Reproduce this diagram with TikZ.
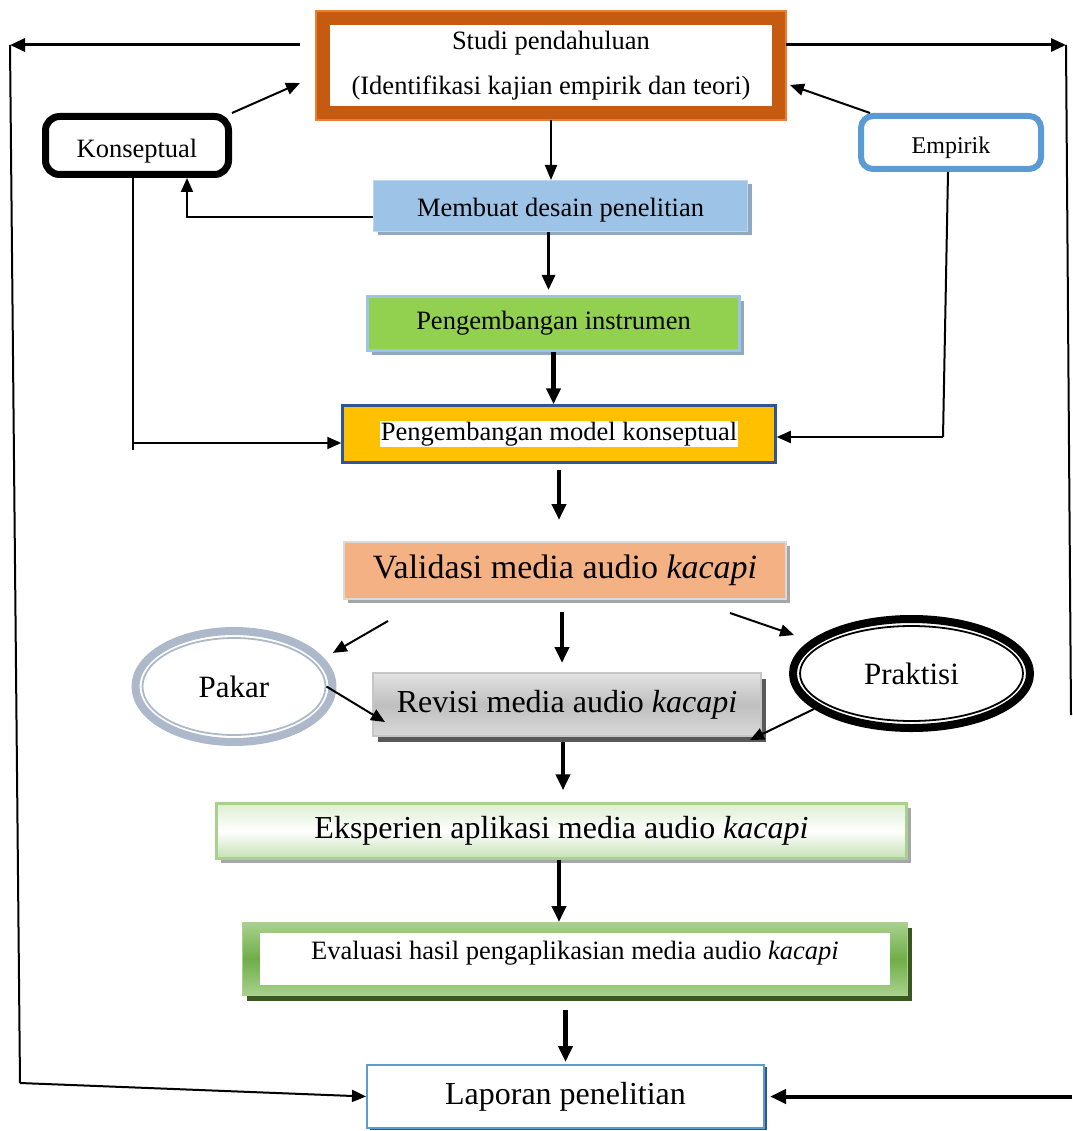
\documentclass[tikz,border=0pt]{standalone}
\usepackage{fontspec}
\setmainfont{Liberation Serif}
\usetikzlibrary{arrows.meta,shapes.geometric,shadows}
\setlength{\fboxsep}{1pt}
\definecolor{orD}{HTML}{C55A11}
\definecolor{orL}{HTML}{ED7D31}
\definecolor{blueE}{HTML}{5B9BD5}
\definecolor{blueM}{HTML}{9DC3E6}
\definecolor{blueMl}{HTML}{BDD7EE}
\definecolor{shBlue}{HTML}{8EA9C1}
\definecolor{greenI}{HTML}{92D050}
\definecolor{gold}{HTML}{FFC000}
\definecolor{navy}{HTML}{2F5597}
\definecolor{peach}{HTML}{F4B183}
\definecolor{shGray}{HTML}{A6A6A6}
\definecolor{darkGray}{HTML}{595959}
\definecolor{greenL}{HTML}{A9D18E}
\definecolor{greenT}{HTML}{DDEED2}
\definecolor{greenB}{HTML}{C5E0B4}
\definecolor{greenM}{HTML}{70AD47}
\definecolor{greenD}{HTML}{385723}
\definecolor{pakarC}{HTML}{ADB9CA}
\begin{document}
\begin{tikzpicture}[x=1pt,y=-1pt]
  \tikzstyle{small}=[font=\fontsize{26.5}{45}\selectfont, inner sep=0pt, align=center]
  \tikzstyle{large}=[font=\fontsize{32}{38}\selectfont, inner sep=0pt]
  \tikzstyle{arr}=[line width=4.5pt, -{Triangle[length=16pt,width=14pt]}]
  \tikzstyle{midarr}=[line width=3pt, -{Triangle[length=15pt,width=13pt]}]
  \tikzstyle{thinarr}=[line width=2pt, -{Triangle[length=15pt,width=12pt]}]
  \tikzstyle{looparr}=[line width=3pt, -{Triangle[length=15pt,width=13pt]}]
  \tikzstyle{fbarr}=[line width=2pt, -{Triangle[length=14pt,width=12pt]}]
  \tikzstyle{fb}=[line width=2pt]
  \tikzstyle{oval}=[ellipse, inner sep=0pt]
  \useasboundingbox (0,0) rectangle (1072,1131);

  % boxes
  \node[small, draw=orD, line width=14pt, fill=white, minimum width=456pt, minimum height=95pt] (studi) at (551,65.5)
    {Studi pendahuluan\\(Identifikasi kajian empirik dan teori)};
  \draw[orL, line width=1.5pt] (studi.north west) rectangle (studi.south east);
  \node[small, draw=black, line width=7pt, rounded corners=14pt, minimum width=183pt, minimum height=58pt, text height=30pt] (konsep) at (137,145.5) {Konseptual};
  \node[small, font=\fontsize{24}{28}\selectfont, draw=blueE, line width=6pt, rounded corners=12pt, minimum width=180pt, minimum height=53pt, text height=27pt] (empirik) at (951,142.5) {Empirik};
  \node[small, fill=blueM, draw=blueMl, line width=1pt, minimum width=374pt, minimum height=51pt, text height=26.5pt,
    drop shadow={shadow xshift=4pt, shadow yshift=-4pt, fill=shBlue, opacity=1}] (membuat) at (560.5,206) {Membuat desain penelitian};
  \node[small, fill=greenI, draw=blueM, line width=3pt, minimum width=372pt, minimum height=54pt,
    drop shadow={shadow xshift=4pt, shadow yshift=-4pt, fill=shBlue, opacity=1}] (instr) at (553.5,323.5) {Pengembangan instrumen};
  \node[small, fill=gold, draw=navy, line width=2.5pt, minimum width=433pt, minimum height=57pt] (model) at (559,434)
    {\colorbox{white}{Pengembangan model konseptual}};
  \node[large, font=\fontsize{34}{38}\selectfont, fill=peach, draw=gray!30, line width=2pt, minimum width=442pt, minimum height=57pt,
    drop shadow={shadow xshift=4pt, shadow yshift=-4pt, fill=shGray, opacity=1}] (validasi) at (565,570.5) {Validasi media audio \textit{kacapi}};
  \node[large, top color=gray!22, bottom color=gray!30, middle color=gray!50, draw=gray!45, line width=2pt, minimum width=388pt, minimum height=63pt,
    drop shadow={shadow xshift=5pt, shadow yshift=-6pt, fill=darkGray, opacity=1}] (revisi) at (567,704.5) {Revisi media audio \textit{kacapi}};
  \node[large, top color=greenT, bottom color=greenB, middle color=white, draw=greenL, line width=2.5pt, minimum width=690pt, minimum height=55pt,
    drop shadow={shadow xshift=4pt, shadow yshift=-4pt, fill=shGray, opacity=1}] (eksp) at (561.5,831) {Eksperien aplikasi media audio \textit{kacapi}};
  \node[top color=greenL, bottom color=greenL, middle color=greenM, draw=greenL, line width=1pt, minimum width=665pt, minimum height=73pt,
    drop shadow={shadow xshift=4pt, shadow yshift=-5pt, fill=greenD, opacity=1}] (evalbg) at (575,959) {};
  \node[small, fill=white, minimum width=630pt, minimum height=52pt, text depth=17pt] (eval) at (575,959)
    {Evaluasi hasil pengaplikasian media audio \textit{kacapi}};
  \node[large, fill=white, draw=blueE, line width=2pt, minimum width=397pt, minimum height=63pt,
    drop shadow={shadow xshift=3pt, shadow yshift=-2pt, fill=navy, opacity=1}] (laporan) at (565.5,1096.5) {Laporan penelitian};

  % ovals
  \node[oval, font=\fontsize{31}{36}\selectfont, draw=pakarC, line width=8pt, minimum width=197pt, minimum height=111pt] (pakar) at (234,686.5) {Pakar};
  \draw[pakarC, line width=1.8pt] (pakar.center) ellipse [x radius=91.5, y radius=48.5];
  \node[oval, font=\fontsize{31}{36}\selectfont, draw=black, line width=8pt, minimum width=237pt, minimum height=109pt] (praktisi) at (911.5,673.5) {Praktisi};
  \draw[black, line width=1.8pt] (praktisi.center) ellipse [x radius=111.5, y radius=47.5];

  % main chain
  \draw[thinarr] (studi.south) -- (studi.south |- membuat.north);
  \draw[midarr, shorten >=5pt] ([xshift=-12pt]membuat.south) -- ([xshift=-12pt]membuat.south |- instr.north);
  \draw[arr] (instr.south) -- (instr.south |- model.north);
  \draw[arr, shorten <=6pt, shorten >=21pt] (model.south) -- (model.south |- validasi.north);
  \draw[arr, shorten <=12pt, shorten >=9pt] ([xshift=-3pt]validasi.south) -- ([xshift=-3pt]validasi.south |- revisi.north);
  \draw[arr, shorten <=5pt, shorten >=12pt] ([xshift=-4pt]revisi.south) -- ([xshift=-4pt]revisi.south |- eksp.north);
  \draw[arr] ([xshift=-2.5pt]eksp.south) -- ([xshift=-2.5pt]eksp.south |- evalbg.north);
  \draw[arr, shorten <=14pt, shorten >=2pt] (laporan.north |- evalbg.south) -- (laporan.north);

  % konseptual and empirik
  \draw[fbarr] ([yshift=-11pt]membuat.west) -| ([xshift=50pt]konsep.south);
  \draw[fbarr] (konsep.north east) -- ([xshift=-16pt,yshift=-17.5pt]studi.west);
  \draw[fbarr] ([xshift=12pt]empirik.north west) -- ([xshift=4pt,yshift=-19.5pt]studi.east);
  \coordinate (kend) at (133,450);
  \coordinate (mw) at ([yshift=-9pt]model.west);
  \draw[fb] ([xshift=-4pt]konsep.south) -- (kend);
  \draw[fbarr] (mw -| kend) -- (mw);
  \coordinate (eend) at (943,437);
  \draw[fb] ([xshift=-3pt]empirik.south) -- (eend);
  \draw[fbarr] (eend) -- (eend -| model.east);

  % outer loops
  \coordinate (ltop) at (10,45);
  \coordinate (lbot) at (20,1083);
  \coordinate (rtop) at (1066,45);
  \coordinate (rbot) at (1071,715);
  \coordinate (rlow) at (1072,1096.5);
  \draw[looparr, shorten <=16pt] ([yshift=20.5pt]studi.west) -- (ltop);
  \draw[fb] (ltop) -- (lbot);
  \draw[fbarr] (lbot) -- (laporan.west);
  \draw[looparr] ([yshift=20.5pt]studi.east) -- (rtop);
  \draw[fb] (rtop) -- (rbot);
  \draw[arr, line width=4pt, shorten >=5pt] (rlow) -- (laporan.east);

  % validation
  \draw[fbarr] ([xshift=45pt,yshift=-21pt]validasi.south west) -- ([xshift=12pt,yshift=2pt]pakar.20);
  \draw[fbarr] ([xshift=-57pt,yshift=-13pt]validasi.south east) -- ([xshift=-20pt,yshift=3pt]praktisi.160);
  \draw[fbarr] ([xshift=-10pt]pakar.east) -- ([xshift=13pt,yshift=-17.5pt]revisi.west);
  \draw[fbarr] (praktisi.200) -- ([xshift=-12pt,yshift=-3pt]revisi.south east);
\end{tikzpicture}
\end{document}
